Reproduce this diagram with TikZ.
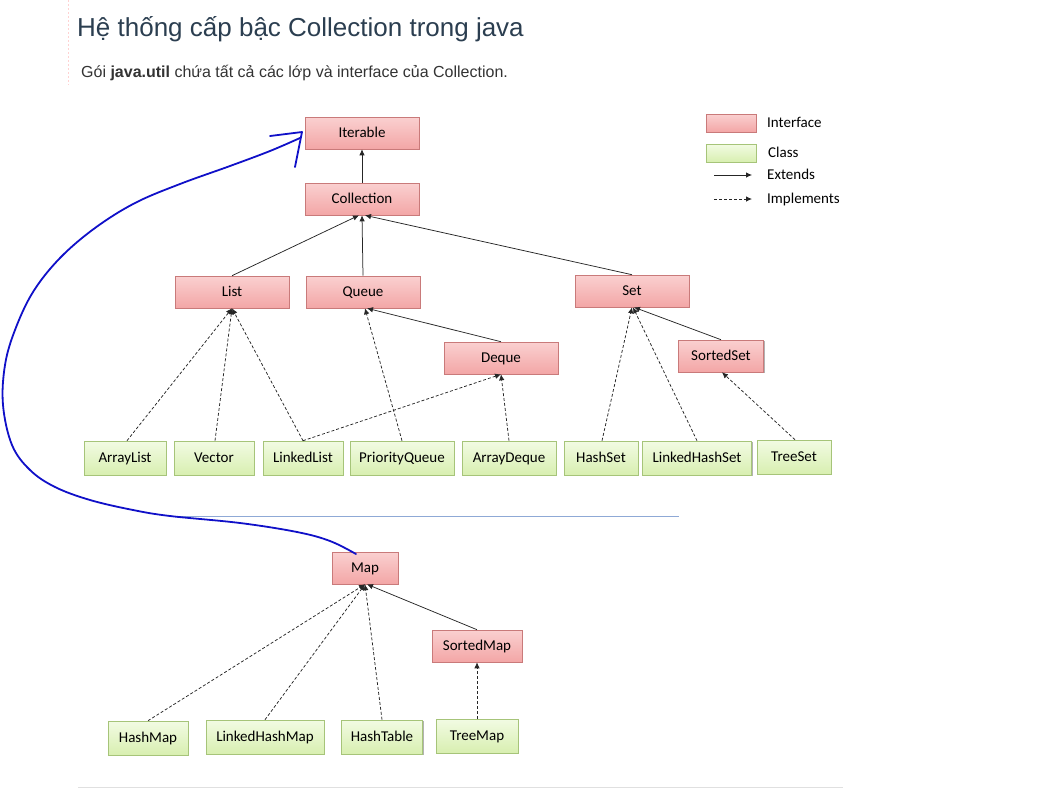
\documentclass[tikz,border=0pt]{standalone}
\usepackage{fontspec}
\setmainfont{Carlito}
\newfontfamily\webfont{Liberation Sans}
\usetikzlibrary{arrows.meta,shadows}
\definecolor{ift}{HTML}{FAD0D0}
\definecolor{ifbot}{HTML}{F3A6A6}
\definecolor{ifb}{HTML}{C97A7A}
\definecolor{clt}{HTML}{F2FBE3}
\definecolor{clbot}{HTML}{D8EFB0}
\definecolor{clb}{HTML}{A6C479}
\definecolor{titlec}{HTML}{2B3E50}
\definecolor{subc}{HTML}{333333}
\definecolor{penblue}{HTML}{1010C8}
\definecolor{sepblue}{HTML}{8FA9D6}
\begin{document}
\begin{tikzpicture}[x=1pt,y=-1pt,
  box/.style={draw, line width=0.6pt, minimum height=32pt, inner sep=0pt,
    font=\fontsize{15}{16}\selectfont, text=black, text height=9.7pt, text depth=0pt,
    drop shadow={shadow xshift=1.2pt,shadow yshift=-1.2pt,opacity=0.3,fill=black}},
  iface/.style={box, draw=ifb, top color=ift, bottom color=ifbot},
  cls/.style={box, draw=clb, top color=clt, bottom color=clbot, minimum height=34pt},
  ext/.style={-{Latex[length=6pt,width=5.5pt]}, line width=0.75pt, draw=black!85},
  impl/.style={ext, dash pattern=on 3pt off 2pt},
  lgtext/.style={anchor=west, inner sep=0pt, font=\fontsize{15}{16}\selectfont, text=black, text height=9.7pt, text depth=0pt},
]
\useasboundingbox (0,0) rectangle (1063,793);

% page decorations
\draw[draw=pink!70, dash pattern=on 2pt off 2pt, line width=0.8pt] (68,0) -- (68,85);
\node[anchor=base west, inner sep=0pt, text=titlec, font=\webfont\fontsize{26}{30}\selectfont] (title) at (77,36) {Hệ thống cấp bậc Collection trong java};
\node[anchor=base west, inner sep=0pt, text=subc, font=\webfont\fontsize{16}{18}\selectfont] (sub) at (81,77) {Gói \textbf{java.util} chứa tất cả các lớp và interface của Collection.};
\draw[sepblue, line width=0.9pt] (170,516) -- (679,516);
\draw[black!12, line width=1pt] (78,787) -- (843,787);

% legend
\node[iface, minimum width=50pt, minimum height=18pt] (lgi) at (731,123) {};
\node[cls, minimum width=50pt, minimum height=18pt] (lgc) at (731,153) {};
\node[lgtext] (lgit) at (767,123) {Interface};
\node[lgtext] (lgct) at (768,153) {Class};
\coordinate (e1) at (714,175); \coordinate (e2) at (752,175);
\coordinate (m1) at (714,199); \coordinate (m2) at (752,199);
\draw[ext] (e1) -- (e2);
\draw[impl] (m1) -- (m2);
\node[lgtext] (lge) at (767,175) {Extends};
\node[lgtext] (lgm) at (767,199) {Implements};

% interfaces
\node[iface, minimum width=114pt] (iter) at (362,133) {Iterable};
\node[iface, minimum width=114pt] (coll) at (362,199) {Collection};
\node[iface, minimum width=114pt] (list) at (232,292) {List};
\node[iface, minimum width=114pt] (queue) at (363,292) {Queue};
\node[iface, minimum width=114pt] (set) at (632,291) {Set};
\node[iface, minimum width=114pt] (deque) at (501,358) {Deque};
\node[iface, minimum width=85pt] (sset) at (721,356) {SortedSet};
\node[iface, minimum width=66pt] (map) at (365,568) {Map};
\node[iface, minimum width=90pt] (smap) at (477,646) {SortedMap};

% classes
\node[cls, minimum width=82pt] (alist) at (125,458) {ArrayList};
\node[cls, minimum width=80pt] (vec) at (214,458) {Vector};
\node[cls, minimum width=80pt] (llist) at (303,458) {LinkedList};
\node[cls, minimum width=104pt] (pq) at (402,458) {PriorityQueue};
\node[cls, minimum width=94pt] (adq) at (509,458) {ArrayDeque};
\node[cls, minimum width=74pt] (hset) at (601,458) {HashSet};
\node[cls, minimum width=109pt] (lhset) at (697,458) {LinkedHashSet};
\node[cls, minimum width=74pt] (tset) at (794,457) {TreeSet};
\node[cls, minimum width=80pt] (hmap) at (148,738) {HashMap};
\node[cls, minimum width=118pt] (lhmap) at (265,737) {LinkedHashMap};
\node[cls, minimum width=81pt] (htab) at (382,737) {HashTable};
\node[cls, minimum width=82pt] (tmap) at (477,736) {TreeMap};

% extends
\draw[ext] (coll.north) -- (iter.south);
\draw[ext] (list.north) -- ([xshift=-3pt]coll.south);
\draw[ext] (queue.north) -- (coll.south);
\draw[ext] (set.north) -- ([xshift=3pt]coll.south);
\draw[ext] (deque.north) -- ([xshift=4pt]queue.south);
\draw[ext] (sset.north) -- ([xshift=2pt]set.south);
\draw[ext] (smap.north) -- ([xshift=2pt]map.south);

% implements
\draw[impl] ([xshift=2pt]alist.north) -- (list.south);
\draw[impl] ([xshift=1pt]vec.north) -- (list.south);
\draw[impl] (llist.north) -- (list.south);
\draw[impl] (llist.north) -- (deque.south);
\draw[impl] (pq.north) -- ([xshift=2pt]queue.south);
\draw[impl] (adq.north) -- (deque.south);
\draw[impl] ([xshift=1pt]hset.north) -- (set.south);
\draw[impl] (lhset.north) -- ([xshift=1pt]set.south);
\draw[impl] ([xshift=1pt]tset.north) -- ([xshift=1pt]sset.south);
\draw[impl] (hmap.north) -- (map.south);
\draw[impl] (lhmap.north) -- (map.south);
\draw[impl] (htab.north) -- (map.south);
\draw[impl] (tmap.north) -- (smap.south);

% hand-drawn blue annotation
\coordinate (pstart) at (356,554);
\coordinate (ptip) at (302,132);
\draw[penblue, line width=1.8pt, line cap=round, line join=round]
  plot[smooth, tension=0.6] coordinates {(356,554) (330,541) (297,532) (240,523) (170,516) (133,510) (90,500) (55,487) (30,470) (12,445) (3,405) (5,365) (15,330) (33,292) (60,258) (95,228) (135,203) (180,184) (230,166) (270,151) (300,138)};
\draw[penblue, line width=1.8pt, line cap=round, line join=round]
  (270,136) -- (ptip) -- (295,167);
\end{tikzpicture}
\end{document}
